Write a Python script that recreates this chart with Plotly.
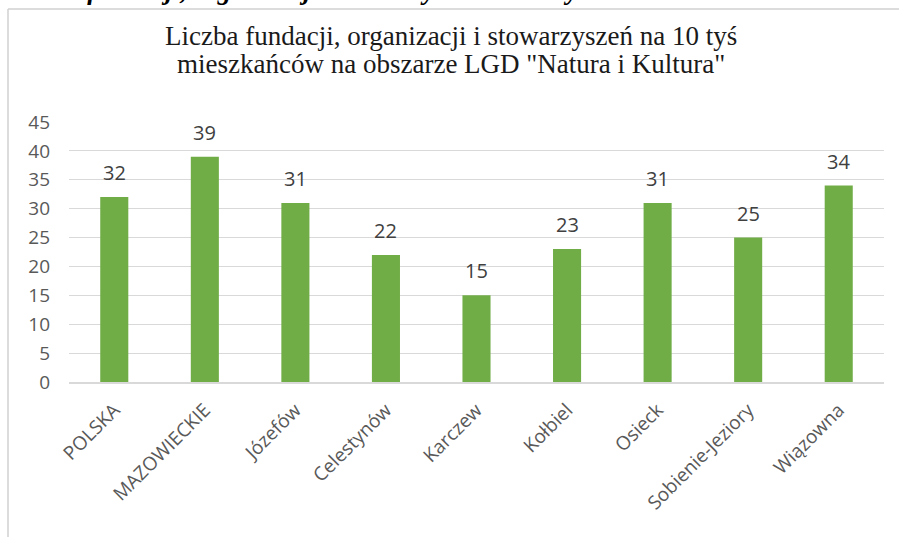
import plotly.graph_objects as go

categories = ["POLSKA", "MAZOWIECKIE", "Józefów", "Celestynów", "Karczew",
              "Kołbiel", "Osieck", "Sobienie-Jeziory", "Wiązowna"]
values = [32, 39, 31, 22, 15, 23, 31, 25, 34]
y_ticks = [0, 5, 10, 15, 20, 25, 30, 35, 40, 45]

title_line1 = "Liczba fundacji, organizacji i stowarzyszeń na 10 tyś"
title_line2 = "mieszkańców na obszarze LGD \"Natura i Kultura\""
header_text = "Liczba fundacji, organizacji i stowarzyszeń na 10 tyś mieszkańców"

SANS = "Open Sans, Liberation Sans, sans-serif"
SERIF = "Liberation Serif, Times New Roman, serif"

fig = go.Figure()
fig.add_trace(go.Bar(
    x=categories, y=values,
    marker=dict(color="#70AD47", line=dict(width=0)),
    width=0.31,
    hoverinfo="skip",
))

L, R, T, B = 69, 15, 122, 155
W, H = 899, 537
pw, ph = W - L - R, H - T - B

def px_x(p):
    return (p - L) / pw

def px_y(p):
    return (H - B - p) / ph

value_labels = [
    dict(x=c, y=v, xref="x", yref="y", text=str(v), showarrow=False,
         xanchor="center", yanchor="bottom", yshift=9,
         font=dict(family=SANS, size=20, color="#404040"))
    for c, v in zip(categories, values)
]

fig.update_layout(
    width=W, height=H,
    margin=dict(l=L, r=R, t=T, b=B, pad=0, autoexpand=False),
    paper_bgcolor="white", plot_bgcolor="white",
    showlegend=False,
    xaxis=dict(
        tickangle=-45, automargin=False,
        tickfont=dict(family=SANS, size=19, color="#595959"),
        showgrid=False, showline=True, linecolor="#D9D9D9", linewidth=1.5,
        ticks="", fixedrange=True, ticklabelstandoff=8,
    ),
    yaxis=dict(
        range=[0, 45], tickvals=y_ticks, automargin=False,
        tickfont=dict(family=SANS, size=19, color="#595959"),
        showgrid=True, gridcolor="#D9D9D9", gridwidth=1.2,
        zeroline=False, showline=False, ticks="", ticklabelstandoff=18,
        fixedrange=True,
    ),
    shapes=[
        dict(type="line", xref="paper", yref="paper",
             x0=px_x(8), x1=px_x(8), y0=px_y(9), y1=px_y(540),
             line=dict(color="#D0D0D0", width=1.5)),
        dict(type="line", xref="paper", yref="paper",
             x0=px_x(8), x1=px_x(905), y0=px_y(9), y1=px_y(9),
             line=dict(color="#D0D0D0", width=1.5)),
    ],
    annotations=value_labels + [
        dict(text=title_line1, xref="paper", yref="paper",
             x=px_x(451), y=px_y(53), xanchor="center", yanchor="bottom",
             showarrow=False,
             font=dict(family=SERIF, size=27, color="#1a1a1a")),
        dict(text=title_line2, xref="paper", yref="paper",
             x=px_x(451), y=px_y(81), xanchor="center", yanchor="bottom",
             showarrow=False,
             font=dict(family=SERIF, size=27, color="#1a1a1a")),
        dict(text="<b><i>" + header_text + "</i></b>", xref="paper", yref="paper",
             x=px_x(4), y=px_y(7), xanchor="left", yanchor="bottom",
             showarrow=False,
             font=dict(family=SERIF, size=27, color="black")),
    ],
)

fig.write_html("out.html", config={"displayModeBar": False, "staticPlot": True},
               post_script="document.body.style.margin='0';document.body.style.overflow='hidden';")
